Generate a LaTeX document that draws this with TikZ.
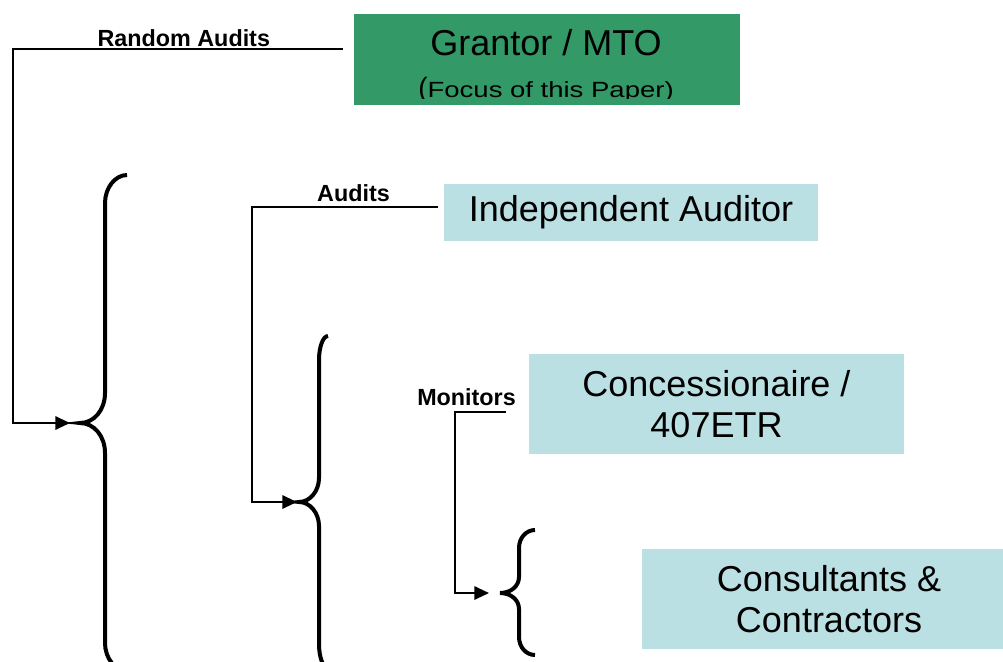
\documentclass[tikz,border=0pt]{standalone}
\usepackage{fontspec}
\setmainfont{Liberation Sans}
\usetikzlibrary{arrows.meta}
\definecolor{mtogreen}{RGB}{51,153,102}
\definecolor{lblue}{RGB}{187,224,227}
\begin{document}
\begin{tikzpicture}[x=0.75pt,y=-0.75pt,
  box/.style={inner sep=0pt, draw=none, fill=lblue, align=center, font=\fontsize{27}{31}\selectfont},
  txt/.style={anchor=base, inner sep=0pt, font=\fontsize{27}{31}\selectfont},
  lbl/.style={anchor=base, inner sep=0pt, font=\fontsize{17.5}{20}\selectfont\bfseries},
  conn/.style={line width=1.5pt, line join=miter, -{Triangle[length=11pt,width=10pt]}},
  bracestyle/.style={line width=3pt, line cap=butt}]
\useasboundingbox (0,0) rectangle (1003,661);
\clip (0,0) rectangle (1003,661);

% boxes
\node[box, fill=mtogreen, minimum width=289.5pt, minimum height=68.25pt] (grantor) at (547,59.5) {};
\node[txt] (grantorT) at (546,55) {Grantor / MTO};
\begin{scope}
  \clip (354,14) rectangle (740,98);
  \node[anchor=base, inner sep=0pt, font=\fontsize{16.5}{20}\selectfont] (focus) at (546,97.5)
    {{\fontsize{21}{24}\selectfont(}\scalebox{1.25}[1]{Focus of this Paper)}};
\end{scope}
\node[box, minimum width=280.5pt, minimum height=42.75pt] (auditor) at (631,212.5) {Independent Auditor};
\node[box, minimum width=281.25pt, minimum height=75pt] (conc) at (716.5,404) {Concessionaire /\\407ETR};
\node[box, minimum width=280.5pt, minimum height=75pt] (cons) at (829,599) {Consultants \&\\Contractors};

% braces
\coordinate (tip1) at (80,423);
\coordinate (tip2) at (299,502);
\coordinate (tip3) at (500,593);
\draw[bracestyle] (127,175) .. controls (115,175) and (105,188) .. (105,203) -- (105,393)
  .. controls (105,410) and (94,423) .. (tip1)
  .. controls (94,423) and (105,436) .. (105,453) -- (105,643)
  .. controls (105,658) and (115,671) .. (127,671);
\draw[bracestyle] (328,336) .. controls (323,336) and (319,347) .. (319,360) -- (319,478)
  .. controls (319,491) and (310,502) .. (tip2)
  .. controls (310,502) and (319,513) .. (319,526) -- (319,644)
  .. controls (319,657) and (323,668) .. (328,668);
\draw[bracestyle] (535,530) .. controls (526,530) and (519,538) .. (519,548) -- (519,577)
  .. controls (519,586) and (511,593) .. (tip3)
  .. controls (511,593) and (519,600) .. (519,609) -- (519,637)
  .. controls (519,647) and (526,655) .. (535,655);

% connectors
\coordinate (s1) at ([xshift=-8.25pt]grantor.west |- 0,49);
\coordinate (e1) at ([xshift=-7.5pt]tip1);
\draw[conn] (s1) -- (13,49) |- (e1);
\node[lbl] (lra) at (183.8,46) {Random Audits};

\coordinate (s2) at ([xshift=-4.5pt]auditor.west |- 0,207);
\coordinate (e2) at ([xshift=-1.5pt]tip2);
\draw[conn] (s2) -- (251.5,207) |- (e2);
\node[lbl] (la) at (353.5,201.7) {Audits};

\coordinate (s3) at ([xshift=-17.25pt]conc.west |- 0,412);
\coordinate (e3) at ([xshift=-8.25pt]tip3);
\draw[conn] (s3) -- (455,412) |- (e3);
\node[lbl] (lm) at (466.5,405) {Monitors};
\end{tikzpicture}
\end{document}
